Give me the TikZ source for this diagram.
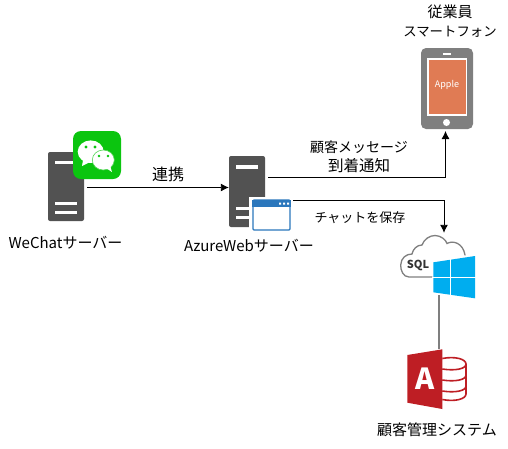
\documentclass[tikz,border=0pt]{standalone}
\usepackage{fontspec}
\setmainfont{Noto Sans CJK JP}
\usetikzlibrary{arrows.meta}
\definecolor{srv}{HTML}{525252}
\definecolor{wegreen}{HTML}{0BC50F}
\definecolor{winblue}{HTML}{2B77BC}
\definecolor{ms}{HTML}{00ADEF}
\definecolor{accred}{HTML}{BE1E24}
\definecolor{phone}{HTML}{7F7F7F}
\definecolor{scr}{HTML}{E07B54}
\definecolor{cloudc}{HTML}{7F7F7F}
\newcommand{\fs}[1]{\fontsize{#1}{19}\selectfont}
\tikzset{
 lbl/.style={inner sep=0pt,align=center,font=\fs{15}},
 conn/.style={line width=0.9pt,draw=black,-{Latex[length=8pt,width=8pt]}},
 graycon/.style={line width=1.5pt,draw=cloudc},
 serverbox/.style={fill=srv,rounded corners=2pt,inner sep=0pt,minimum width=36pt},
 bar/.style={fill=white,draw=none},
 anchorpt/.style={inner sep=0pt,minimum size=0pt}
}
\begin{document}
\begin{tikzpicture}[x=1pt,y=-1pt]
\useasboundingbox (0,0) rectangle (508,448);
% WeChat server
\node[serverbox,minimum height=69pt] (wsrv) at (66,186.5) {};
\fill[bar] (55,161) rectangle (77,164);
\fill[bar] (55,202) rectangle (77,205);
\fill[bar] (55,211) rectangle (77,214);
% WeChat icon
\node[fill=wegreen,rounded corners=8pt,minimum size=48pt,inner sep=0pt] (wicon) at (97,155) {};
\fill[white] (90.7,151.7) ellipse [x radius=13,y radius=11.3];
\fill[white] (83,160) -- (82,166) -- (90,162) -- cycle;
\fill[white,draw=wegreen!70!white,line width=0.6pt] (103.3,160) ellipse [x radius=11,y radius=10];
\fill[white] (106,168) -- (112,172) -- (110,165) -- cycle;
\fill[wegreen] (86,147) circle (1.6) (95,147) circle (1.6) (99,156) circle (1.4) (108,156) circle (1.4);
% Azure server
\node[serverbox,minimum height=71pt] (asrv) at (247,191.5) {};
\fill[bar] (236,165) rectangle (258,169);
\fill[bar] (236,207) rectangle (252,210);
\fill[bar] (236,216) rectangle (252,219);
% browser window
\fill[white] (249,197) rectangle (293,233);
\node[draw=winblue,line width=1.3pt,fill=white,rounded corners=1pt,minimum width=37pt,minimum height=30pt,inner sep=0pt] (win) at (271.5,215) {};
\fill[winblue] (252,200) rectangle (291,207);
\fill[white] (279,202.5) rectangle (281,204.5) (283,202.5) rectangle (285,204.5) (287,202.5) rectangle (289,204.5);
% phone
\node[fill=phone,rounded corners=5pt,minimum width=52pt,minimum height=81pt,inner sep=0pt] (ph) at (447,88.5) {};
\fill[white] (426.7,58) rectangle (467,115.5);
\fill[scr] (428.5,59.5) rectangle (465.5,114);
\fill[white] (443,52.5) rectangle (451,54.5);
\fill[white] (446.5,122.5) circle (3.5);
\node[lbl,text=white,font=\fontsize{9}{11}\selectfont] (apple) at (447,85) {Apple};
% cloud
\draw[cloudc,line width=1.3pt,line cap=round]
 (432,277) -- (409,277) .. controls (403,277) and (400.5,270) .. (400.7,265)
 .. controls (401,258) and (406,254) .. (412,254)
 .. controls (413,249) and (417,245) .. (422,245)
 .. controls (424,239) and (430,235.5) .. (435,235.5)
 .. controls (441,235.5) and (446,240) .. (447,243.5)
 .. controls (453,240) and (463,243) .. (465,255);
\node[inner sep=0pt,font=\fontsize{11}{14}\selectfont\bfseries,text=black!80] (sql) at (418,265) {SQL};
% windows logo
\path[fill=ms] (433.3,262.3) -- (475,256) -- (475,298.3) -- (433.3,292.3) -- cycle;
\draw[white,line width=1.2pt] (450.7,255) -- (450.7,300) (432,277.5) -- (476,277.5);
\node[anchorpt] (dbtop) at (439,295) {};
\node[anchorpt] (cloudtop) at (444,233) {};
% access
\path[fill=accred] (407.3,355) -- (442.3,349.3) -- (442.3,409) -- (407.3,402.7) -- cycle;
\node[inner sep=0pt,text=white,font=\fontsize{29}{30}\selectfont\bfseries] (aletter) at (425,379) {A};
\draw[accred,line width=1.6pt]
 (442.3,358.5) .. controls (455,356) and (466,359) .. (466,364)
 -- (466,394) .. controls (466,399) and (455,402) .. (442.3,399.5)
 (442.3,369) .. controls (455,371) and (466,369) .. (466,364)
 (442.3,380) .. controls (455,382) and (466,380) .. (466,375)
 (442.3,391) .. controls (455,393) and (466,391) .. (466,386);
\node[anchorpt] (acctop) at (439,349) {};
% labels
\node[lbl] (l1) at (65.5,242.5) {WeChatサーバー};
\node[lbl] (l2) at (249,246) {AzureWebサーバー};
\node[lbl,font=\fs{16}] (l3) at (168,174) {連携};
\node[lbl] (l4) at (359,156.5) {{\fs{14}顧客メッセージ}\\{\fs{15.5}到着通知}};
\node[lbl,font=\fs{13}] (l5) at (360,218) {チャットを保存};
\node[lbl] (l6) at (450,21) {{\fs{15}従業員}\\{\fs{13.4}スマートフォン}};
\node[lbl] (l7) at (437,430) {顧客管理システム};
% connectors
\draw[conn] (87,187.5) -- (asrv.west |- 0,187.5);
\coordinate (a1) at (268,177);
\coordinate (a2) at (293,200.5);
\draw[conn] (a1) -- (445.5,177) -- (445.5,131);
\draw[conn] (a2) -- (444,200.5) -- (cloudtop);
\draw[graycon] (dbtop) -- (acctop);
\end{tikzpicture}
\end{document}
